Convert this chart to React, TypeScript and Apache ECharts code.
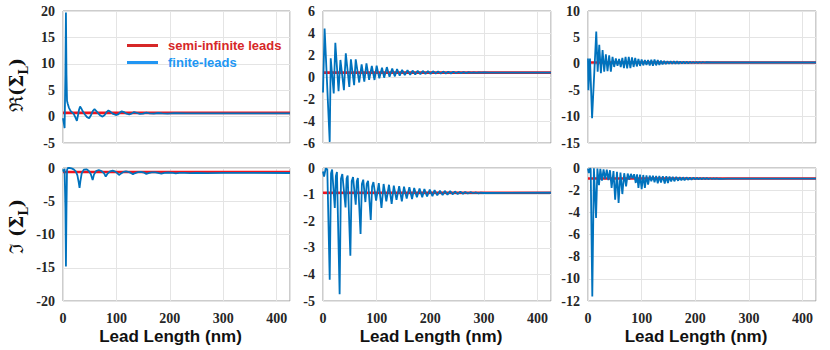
import React, { useEffect, useRef } from "react";
import * as echarts from "echarts";

// ---- data ----
const xTicks = [0, 100, 200, 300, 400];
const seriesNames = ["semi-infinite leads", "finite-leads"];

// semi-infinite leads (constant level) per panel
const semiInfinite = [0.7, 0.4, 0.25, -0.6, -0.93, -0.95];

// Panel 1: Re(Sigma_L)
const re1Finite = [
  [0, -0.3], [1.5, -1.2], [3, -2.2], [4.5, 8], [5.5, 19.7], [6.5, 8], [7.5, 3], [9, 2.4], [11, 1.7],
  [14, 1.1], [17, 0.8], [20, 0.5], [23, -0.1], [26, -0.8], [28, 0.2], [30, 1.3], [32, 1.9], [34, 1.6],
  [37, 1.0], [41, 0.4], [45, -0.1], [49, -0.3], [52, 0.2], [56, 1.1], [59, 1.4], [62, 1.1], [66, 0.6],
  [70, 0.2], [74, 0.0], [78, 0.3], [82, 0.9], [85, 1.15], [89, 0.9], [94, 0.5], [99, 0.3], [103, 0.4],
  [107, 0.8], [110, 1.0], [114, 0.85], [119, 0.55], [124, 0.4], [128, 0.55], [133, 0.85], [138, 0.7],
  [144, 0.5], [150, 0.55], [156, 0.75], [162, 0.62], [170, 0.55], [178, 0.68], [186, 0.6], [196, 0.58],
  [210, 0.64], [230, 0.6], [260, 0.62], [300, 0.6], [425, 0.6],
];

// Panel 2: Re(Sigma_L)
const re2Finite = [
  [0, -1.4], [3, 4.4], [12.5, -5.9], [14.4, 1.7], [20, -1.5], [23, 3.1], [29, -1.3], [32.5, 1.55],
  [39, -1.2], [42.5, 2.15], [49, -0.9], [52, 1.6], [58, -0.75], [61, 1.6], [67.5, -0.5], [72, 1.15],
  [77, -0.42], [81, 1.24], [86, -0.25], [91, 1.0], [96, -0.27], [100, 1.03], [105, -0.12], [110, 0.85],
  [114, -0.06], [119, 0.9], [124, 0.03], [129, 0.76], [134, 0.06], [138, 0.73], [143, 0.12], [147.5, 0.64],
  [152.5, 0.18], [157.5, 0.61], [162.5, 0.21], [167, 0.58], [172, 0.23], [176.5, 0.56], [181.5, 0.25],
  [186, 0.55], [191, 0.27], [195.5, 0.53], [200.5, 0.28], [205, 0.52], [210, 0.3], [214.5, 0.5],
  [219.5, 0.31], [224, 0.49], [229, 0.32], [233.5, 0.48], [238.5, 0.33], [243, 0.47], [248, 0.34],
  [252.5, 0.46], [257.5, 0.35], [262, 0.45], [267, 0.36], [271.5, 0.44], [276.5, 0.37], [281, 0.43],
  [286, 0.38], [290.5, 0.42], [295.5, 0.39], [300, 0.41], [310, 0.4], [425, 0.4],
];

// Panel 3: Re(Sigma_L)
const re3Finite = [
  [0, 1.0], [0.8, -5.0], [3.7, 1.0], [7.6, -10.3], [15.4, 6.1], [18, -1.5], [21, 3.6], [24, -1.8],
  [27.2, 2.6], [30.2, -1.5], [33.3, 1.8], [36.4, -1.4], [39.5, 1.6], [42.6, -1.5], [45.7, 1.3], [48.8, -0.6],
  [51.9, 1.0], [55, -0.4], [58, 0.9], [61, -0.6], [64, 1.1], [67, -0.8], [70, 1.3], [73, -0.85], [76, 1.3],
  [79, -0.8], [82, 1.2], [85, -0.6], [88, 1.1], [91, -0.5], [94, 0.9], [97, -0.4], [100, 0.8], [103, -0.3],
  [106, 0.7], [109, -0.2], [112, 0.7], [115, -0.3], [118, 0.75], [121, -0.35], [124, 0.8], [127, -0.3],
  [130, 0.7], [133, -0.2], [136, 0.6], [139, -0.1], [142, 0.55], [145, -0.05], [148, 0.5], [151, 0.0],
  [154, 0.48], [157, 0.02], [160, 0.47], [163, 0.0], [166, 0.46], [169, 0.03], [172, 0.44], [175, 0.06],
  [178, 0.42], [181, 0.08], [184, 0.4], [187, 0.1], [190, 0.38], [193, 0.13], [196, 0.36], [199, 0.15],
  [202, 0.34], [205, 0.17], [208, 0.32], [211, 0.19], [214, 0.3], [217, 0.21], [220, 0.29], [230, 0.25],
  [425, 0.25],
];

// Panel 4: Im(Sigma_L)
const im1Finite = [
  [0, -0.2], [1.5, -0.6], [3, -0.1], [4.5, -6], [5.5, -14.8], [6.5, -6], [7.5, -0.3], [9, 0], [12, 0],
  [16, -0.05], [20, -0.2], [24, -0.5], [27, -1.1], [29.5, -2.2], [31, -3.0], [32.5, -2.0], [35, -0.8],
  [39, -0.25], [44, -0.2], [48, -0.4], [52, -0.9], [55.5, -1.8], [58, -1.0], [62, -0.45], [67, -0.3],
  [72, -0.45], [77, -0.8], [80, -1.3], [83, -0.9], [88, -0.5], [93, -0.4], [98, -0.55], [102, -0.8],
  [105, -1.05], [108, -0.85], [113, -0.6], [118, -0.5], [124, -0.62], [128, -0.8], [131, -0.95],
  [134, -0.8], [140, -0.62], [146, -0.58], [152, -0.7], [156, -0.88], [160, -0.78], [166, -0.65],
  [173, -0.65], [180, -0.78], [184, -0.83], [190, -0.72], [198, -0.68], [206, -0.74], [211, -0.8],
  [218, -0.72], [228, -0.72], [238, -0.77], [250, -0.73], [270, -0.76], [300, -0.74], [425, -0.75],
];

// Panel 5: Im(Sigma_L)
const im2Finite = [
  [0, -0.13], [2, -0.32], [5, -0.02], [8, -0.05], [12.5, -4.2], [15, -0.2], [17, -0.06], [22, -1.5],
  [24, -0.3], [26, -0.15], [31, -4.75], [33.5, -0.4], [36, -0.23], [42, -1.48], [44, -0.4], [46, -0.28],
  [51, -3.3], [53.5, -0.5], [56, -0.34], [61, -1.38], [63, -0.5], [65, -0.38], [70, -2.48], [72.5, -0.6],
  [75, -0.44], [79, -1.28], [81.5, -0.6], [84, -0.48], [89, -1.95], [91.5, -0.7], [94, -0.53], [99, -1.23],
  [104, -0.57], [109, -1.5], [113, -0.6], [118, -1.25], [123, -0.63], [128, -1.35], [132, -0.66],
  [137, -1.2], [142, -0.68], [147, -1.25], [151, -0.7], [156, -1.15], [161, -0.72], [166, -1.17],
  [170, -0.75], [175, -1.1], [180, -0.77], [185, -1.1], [189, -0.79], [194, -1.07], [199, -0.81],
  [204, -1.06], [208, -0.83], [213, -1.03], [218, -0.85], [223, -1.02], [227, -0.86], [232, -1.0],
  [237, -0.87], [242, -0.99], [246, -0.88], [251, -0.98], [256, -0.89], [261, -0.97], [265, -0.9],
  [270, -0.96], [275, -0.91], [280, -0.95], [284, -0.92], [290, -0.95], [294, -0.93], [300, -0.94],
  [425, -0.93],
];

// Panel 6: Im(Sigma_L)
const im3Finite = [
  [0, -0.05], [1.5, -0.45], [3, -0.1], [5, -0.05], [8, -11.6], [11, -0.02], [15, -4.5], [17.5, -0.05],
  [20.5, -1.55], [23, -0.08], [26, -1.15], [29, -0.12], [32, -1.0], [35, -0.15], [38, -1.1], [41, -0.2],
  [44, -1.8], [47.5, -0.28], [50.6, -2.87], [54, -0.35], [57, -3.16], [60.5, -0.42], [64, -2.35],
  [67.5, -0.47], [71, -1.66], [74, -0.5], [77, -1.05], [80, -0.53], [83, -0.95], [86, -0.56], [89, -1.35],
  [91.5, -0.58], [94, -1.8], [97, -0.6], [100, -1.9], [103, -0.63], [106, -1.8], [109, -0.66], [112, -1.5],
  [115, -0.68], [118, -1.2], [121, -0.7], [124, -1.3], [127, -0.71], [130, -1.38], [133, -0.72],
  [136, -1.3], [139.5, -0.74], [143, -1.4], [146, -0.75], [149, -1.35], [152, -0.77], [155, -1.22],
  [158, -0.79], [161, -1.2], [164.5, -0.8], [168, -1.15], [171, -0.82], [174, -1.12], [177, -0.84],
  [180, -1.1], [183.5, -0.85], [187, -1.07], [190, -0.86], [193, -1.05], [196.5, -0.87], [200, -1.03],
  [203, -0.88], [206, -1.02], [209, -0.89], [212, -1.01], [215, -0.9], [218, -1.0], [221.5, -0.91],
  [225, -1.0], [228, -0.92], [231, -0.99], [234, -0.93], [237, -0.99], [240, -0.94], [243, -0.98],
  [246.5, -0.95], [250, -0.98], [260, -0.96], [425, -0.96],
];

const finiteData = [re1Finite, re2Finite, re3Finite, im1Finite, im2Finite, im3Finite];
const yMin = [-5, -6, -15, -20, -5, -12];
const yMax = [20, 6, 10, 0, 0, 0];
const yStep = [5, 2, 5, 5, 1, 2];
const xMin = 0;
const xMax = 425;
const xStep = 100;

export default function App() {
  const ref = useRef<HTMLDivElement>(null);

  useEffect(() => {
    document.body.style.margin = "0";
    if (!ref.current) return;
    const chart = echarts.init(ref.current, undefined, { renderer: "svg" });

    const lefts = [63, 323, 588];
    const widths = [227, 228, 228];
    const tops = [11, 168];
    const heights = [132, 133];

    const grids: any[] = [];
    const xAxes: any[] = [];
    const yAxes: any[] = [];
    const series: any[] = [];

    const tickFont = {
      fontFamily: "Liberation Serif, DejaVu Serif, serif",
      fontWeight: "bold",
      fontSize: 14,
      color: "#262626",
    };

    const nameRich = {
      m: { fontFamily: "DejaVu Serif", fontSize: 19, lineHeight: 28, verticalAlign: "middle", color: "#111" },
      p: { fontFamily: "DejaVu Serif", fontWeight: "bold", fontSize: 18, lineHeight: 28, verticalAlign: "middle", color: "#111" },
      s: { fontFamily: "DejaVu Serif", fontWeight: "bold", fontSize: 12, lineHeight: 12, verticalAlign: "bottom", color: "#111" },
    };

    for (let i = 0; i < 6; i++) {
      const row = Math.floor(i / 3);
      const col = i % 3;
      grids.push({
        left: lefts[col],
        top: tops[row],
        width: widths[col],
        height: heights[row],
        show: true,
        borderColor: "#9a9a9a",
        borderWidth: 1,
        backgroundColor: "transparent",
        containLabel: false,
      });
      xAxes.push({
        type: "value",
        gridIndex: i,
        min: xMin,
        max: xMax,
        interval: xStep,
        axisLine: { show: false },
        axisTick: { show: false },
        splitLine: { show: true, lineStyle: { color: "#e4e4e4", width: 1 } },
        axisLabel: {
          show: row === 1,
          showMaxLabel: false,
          margin: 10,
          ...tickFont,
          formatter: (v: number) => (xTicks.includes(v) ? String(v) : ""),
        },
        name: row === 1 ? "Lead Length (nm)" : "",
        nameLocation: "middle",
        nameGap: 27,
        nameTextStyle: {
          fontFamily: "Liberation Sans, Arial, sans-serif",
          fontWeight: "bold",
          fontSize: 17,
          color: "#111",
          padding: [0, 12, 0, 0],
        },
      });
      let yName = "";
      if (col === 0) {
        yName = row === 0 ? "{m|ℜ}{p|(Σ}{s|L}{p|)}" : "{m|ℑ }{p|(Σ}{s|L}{p|)}";
      }
      yAxes.push({
        type: "value",
        gridIndex: i,
        min: yMin[i],
        max: yMax[i],
        interval: yStep[i],
        axisLine: { show: false },
        axisTick: { show: false },
        splitLine: { show: true, lineStyle: { color: "#e4e4e4", width: 1 } },
        axisLabel: { margin: 8, ...tickFont },
        name: yName,
        nameLocation: "middle",
        nameRotate: 90,
        nameGap: 33,
        nameTextStyle: {
          rich: nameRich,
          padding: row === 0 ? [0, 16, 0, 0] : [0, 0, 0, 16],
        },
      });
      series.push({
        type: "line",
        name: seriesNames[0],
        xAxisIndex: i,
        yAxisIndex: i,
        data: [[xMin, semiInfinite[i]], [xMax, semiInfinite[i]]],
        showSymbol: false,
        symbol: "none",
        lineStyle: { color: "#f0141e", width: 2.6 },
        itemStyle: { color: "#f0141e" },
        z: 2,
      });
      series.push({
        type: "line",
        name: seriesNames[1],
        xAxisIndex: i,
        yAxisIndex: i,
        data: finiteData[i],
        showSymbol: false,
        symbol: "none",
        lineStyle: { color: "#0072bd", width: 1.8 },
        itemStyle: { color: "#0072bd" },
        z: 3,
      });
    }

    chart.setOption({
      animation: false,
      grid: grids,
      xAxis: xAxes,
      yAxis: yAxes,
      series,
      legend: {
        orient: "vertical",
        left: 122,
        top: 34,
        icon: "rect",
        itemWidth: 31,
        itemHeight: 3,
        itemGap: 4,
        selectedMode: false,
        textStyle: {
          fontFamily: "Liberation Sans, Arial, sans-serif",
          fontWeight: "bold",
          fontSize: 13,
          padding: [0, 0, 0, 5],
        },
        data: [
          { name: seriesNames[0], itemStyle: { color: "#d62728" }, textStyle: { color: "#d62728" } },
          { name: seriesNames[1], itemStyle: { color: "#2196f3" }, textStyle: { color: "#2196f3" } },
        ],
      },
    });

    return () => {
      chart.dispose();
    };
  }, []);

  return <div ref={ref} style={{ width: 830, height: 350 }} />;
}
